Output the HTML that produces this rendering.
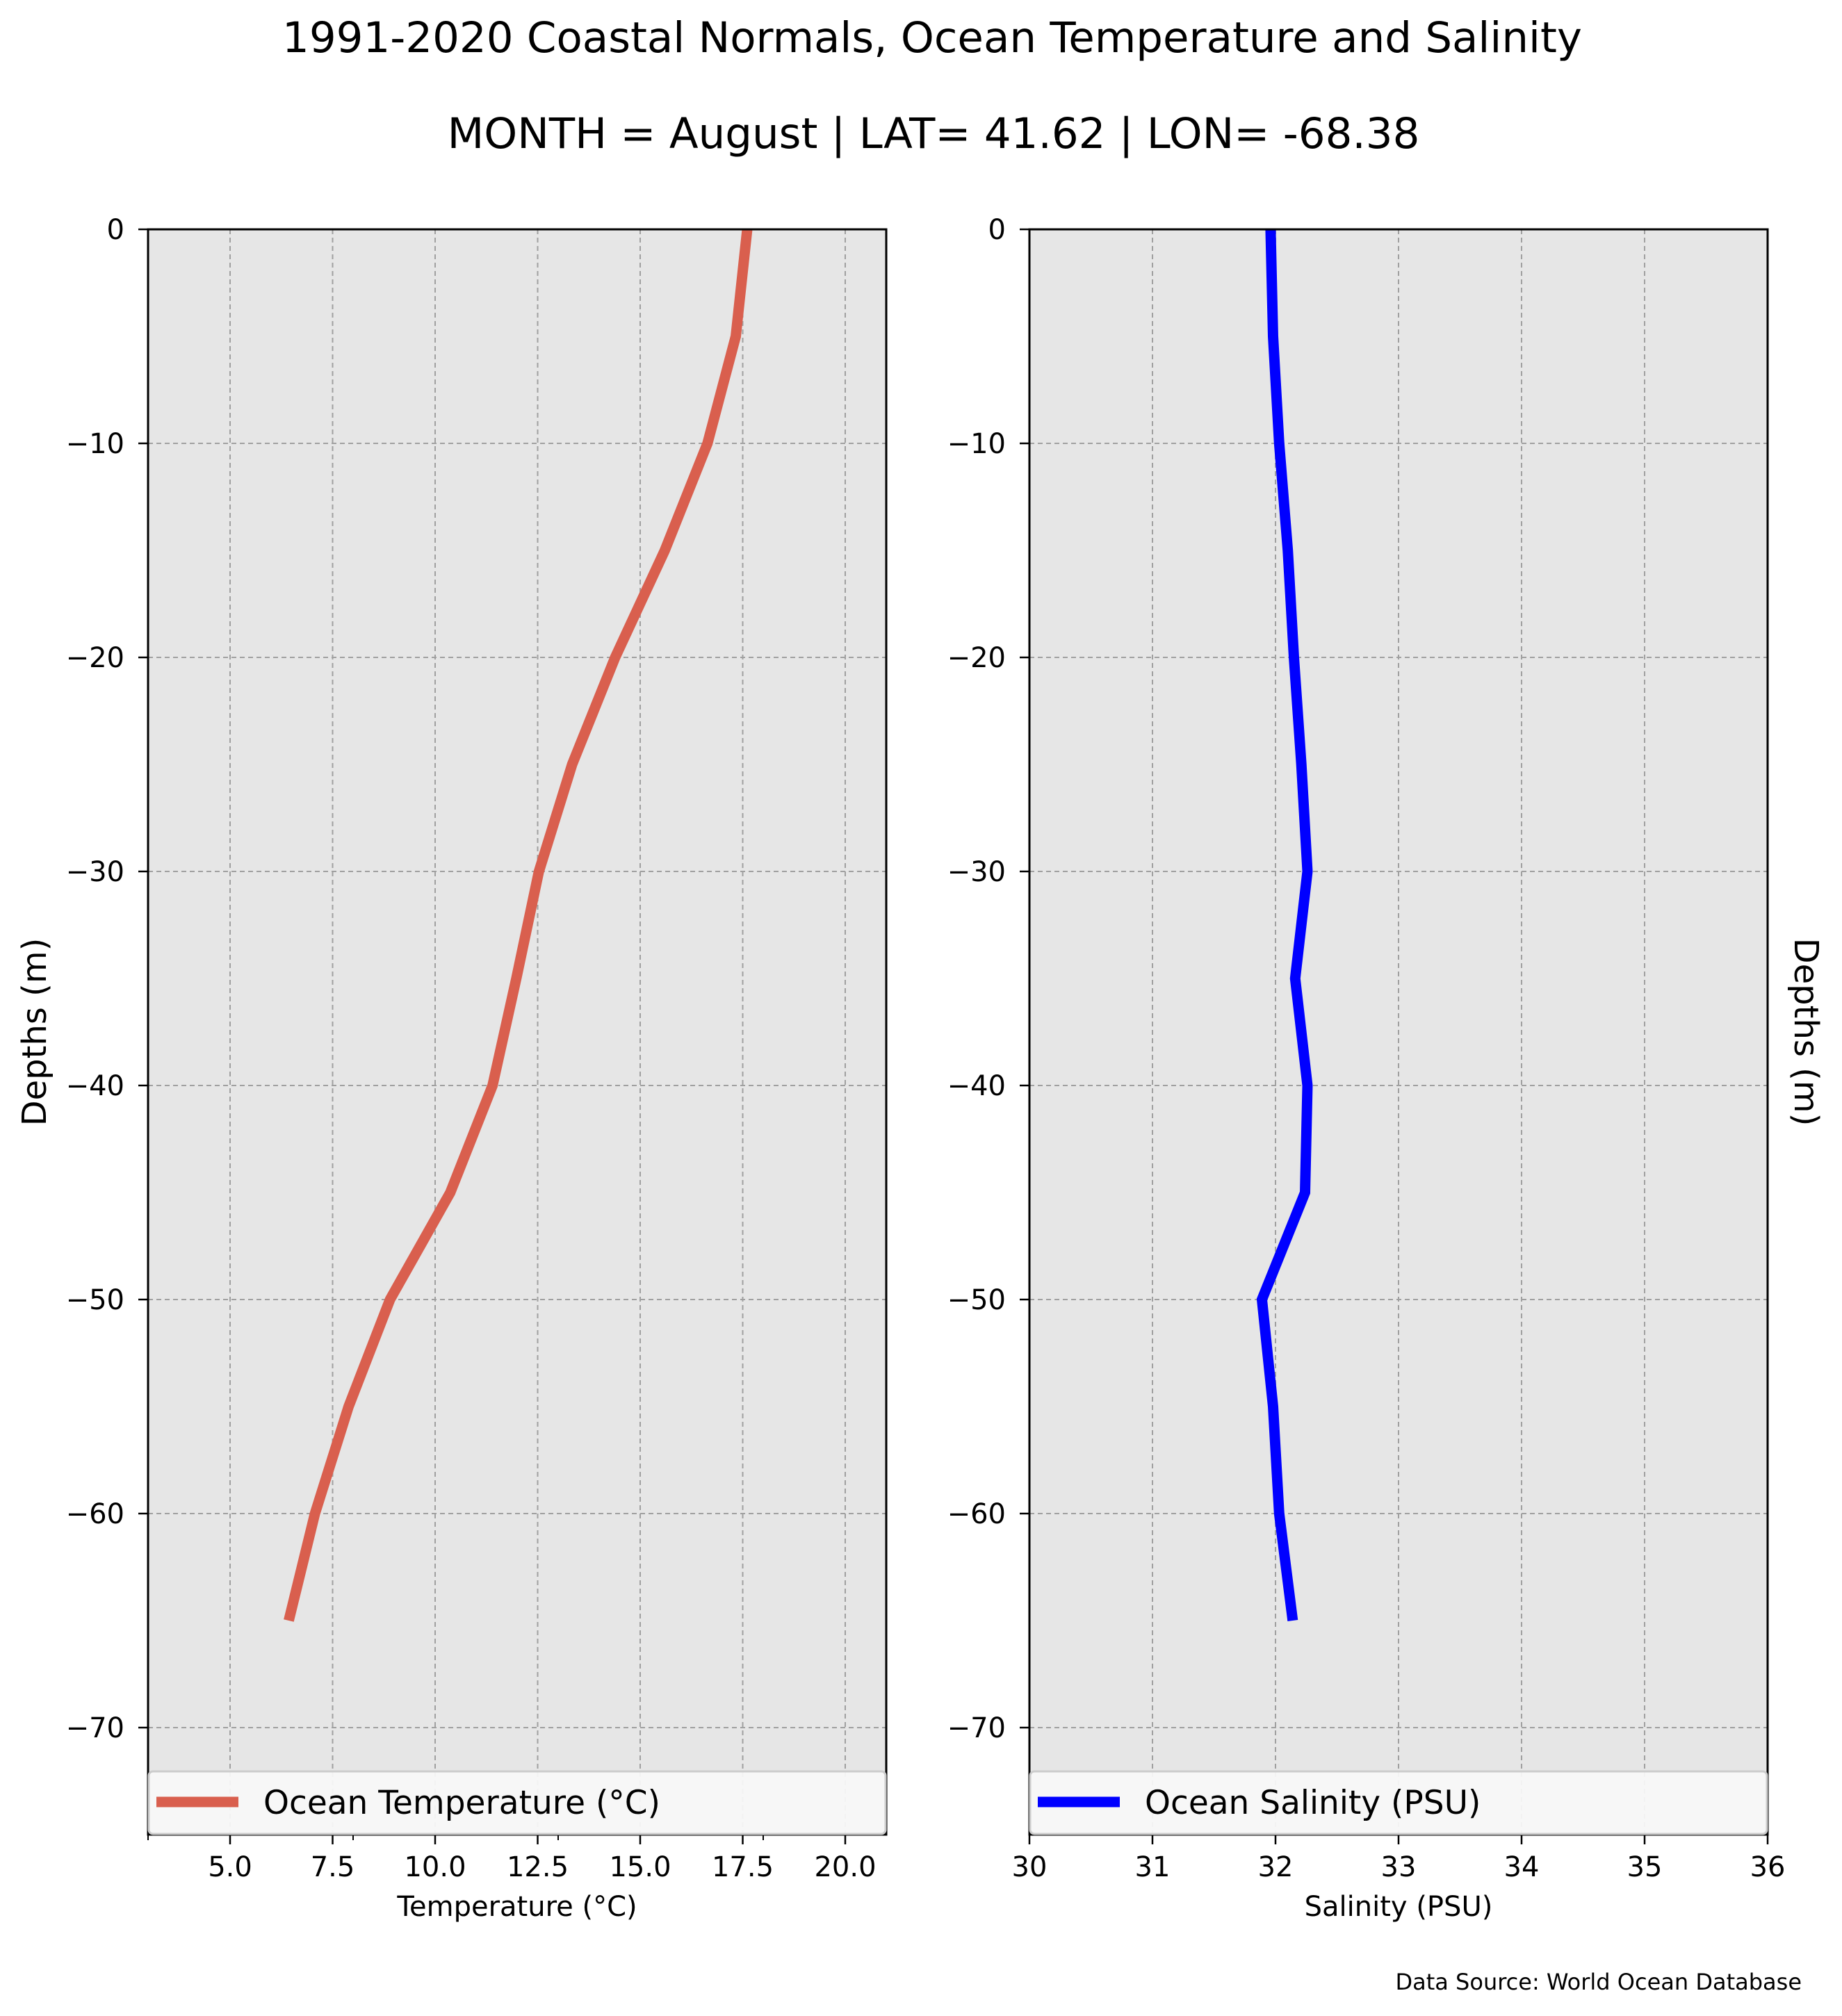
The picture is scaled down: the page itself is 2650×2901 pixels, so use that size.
<!DOCTYPE html>
<html><head><meta charset="utf-8"><style>
html,body{margin:0;padding:0;background:#fff;}
svg{display:block;font-family:"DejaVu Sans","Liberation Sans",sans-serif;}
</style></head><body>
<svg id="fig" xmlns="http://www.w3.org/2000/svg" width="2650" height="2901" viewBox="0 0 2650 2901">
<rect x="0" y="0" width="2650" height="2901" fill="#fff"/>
<text x="1341" y="75" font-size="61" text-anchor="middle">1991-2020 Coastal Normals, Ocean Temperature and Salinity</text>
<text x="1343" y="213" font-size="61" text-anchor="middle">MONTH = August | LAT= 41.62 | LON= -68.38</text>
<g id="left"></g>
<g id="right"></g>
<text transform="translate(66,1485) rotate(-90)" font-size="48" text-anchor="middle">Depths (m)</text>
<text transform="translate(2582,1485) rotate(90)" font-size="48" text-anchor="middle">Depths (m)</text>
<text x="2592" y="2863" font-size="32" text-anchor="end">Data Source: World Ocean Database</text>
</svg>
<script>
const depths = [0,-5,-10,-15,-20,-25,-30,-35,-40,-45,-50,-55,-60,-65];
const temperature = [17.61,17.33,16.64,15.60,14.39,13.34,12.53,11.98,11.40,10.37,8.90,7.89,7.07,6.43];
const salinity = [31.96,31.98,32.03,32.10,32.15,32.21,32.26,32.16,32.26,32.24,31.89,31.98,32.03,32.14];
const yTicks = [0,-10,-20,-30,-40,-50,-60,-70];
const tempTicks = [5.0,7.5,10.0,12.5,15.0,17.5,20.0];
const tempTickLabels = ["5.0","7.5","10.0","12.5","15.0","17.5","20.0"];
const tempMinorTicks = [3,8,13,18];
const salTicks = [30,31,32,33,34,35,36];
const salTickLabels = ["30","31","32","33","34","35","36"];

const NS = "http://www.w3.org/2000/svg";
const TOP = 330, BOT = 2640;
const yScale = d => TOP + (0 - d) / 75 * (BOT - TOP);
function mk(parent, tag, attrs) {
  const e = document.createElementNS(NS, tag);
  for (const k in attrs) e.setAttribute(k, attrs[k]);
  parent.appendChild(e);
  return e;
}
function panel(g, x0, x1, xmin, xmax, xs, xticks, xlabels, minor, values, color, legendText, xTitle, prefix) {
  const xScale = v => x0 + (v - xmin) / (xmax - xmin) * (x1 - x0);
  const bg = mk(g, 'rect', {x: x0, y: TOP, width: x1 - x0, height: BOT - TOP, fill: '#e6e6e6'});
  
  
  xticks.forEach((t, i) => {
    const X = xScale(t);
    const gl = mk(g, 'line', {x1: X, x2: X, y1: TOP, y2: BOT, stroke: '#a0a0a0', 'stroke-width': 2, 'stroke-dasharray': '7,5'});
    
    
    const tk = mk(g, 'line', {x1: X, x2: X, y1: BOT, y2: BOT + 14, stroke: '#000', 'stroke-width': 2.5});
    
    
    const tl = mk(g, 'text', {x: X, y: 2700, 'font-size': 40, 'text-anchor': 'middle'});
    tl.textContent = xlabels[i];
    
    
  });
  minor.forEach(t => {
    const X = xScale(t);
    const mt = mk(g, 'line', {x1: X, x2: X, y1: BOT, y2: BOT + 8, stroke: '#000', 'stroke-width': 2});
    
    
  });
  yTicks.forEach(t => {
    const Y = yScale(t);
    const gl = mk(g, 'line', {x1: x0, x2: x1, y1: Y, y2: Y, stroke: '#a0a0a0', 'stroke-width': 2, 'stroke-dasharray': '7,5'});
    
    
    const tk = mk(g, 'line', {x1: x0 - 14, x2: x0, y1: Y, y2: Y, stroke: '#000', 'stroke-width': 2.5});
    
    
    const tl = mk(g, 'text', {x: x0 - 34, y: Y + 14, 'font-size': 40, 'text-anchor': 'end'});
    tl.textContent = t === 0 ? '0' : '\u2212' + Math.abs(t);
    
    
  });
  const pts = depths.map((d, i) => xScale(values[i]).toFixed(1) + ',' + yScale(d).toFixed(1)).join(' ');
  const line = mk(g, 'polyline', {points: pts, fill: 'none', stroke: color, 'stroke-width': 15, 'stroke-linejoin': 'miter'});
  
  
  const fr = mk(g, 'rect', {x: x0, y: TOP, width: x1 - x0, height: BOT - TOP, fill: 'none', stroke: '#000', 'stroke-width': 3});
  
  
  const lg = mk(g, 'g', {});
  
  
  mk(lg, 'rect', {x: x0 + 1, y: 2549, width: x1 - x0 - 2, height: 90, rx: 6, fill: '#f9f9f9', 'fill-opacity': 0.92, stroke: '#cccccc', 'stroke-width': 3});
  const sw = mk(lg, 'line', {x1: x0 + 12, x2: x0 + 130, y1: 2593, y2: 2593, stroke: color, 'stroke-width': 15});
  
  
  const lt = mk(lg, 'text', {x: x0 + 166, y: 2610, 'font-size': 47});
  lt.textContent = legendText;
  
  
  const xt = mk(g, 'text', {x: (x0 + x1) / 2, y: 2757, 'font-size': 40, 'text-anchor': 'middle'});
  xt.textContent = xTitle;
  
  
}
panel(document.getElementById('left'), 213, 1275, 3, 21, null, tempTicks, tempTickLabels, tempMinorTicks, temperature, '#d95f4e', 'Ocean Temperature (\u00b0C)', 'Temperature (\u00b0C)', 'temperature');
panel(document.getElementById('right'), 1481, 2543, 30, 36, null, salTicks, salTickLabels, [], salinity, '#0000ff', 'Ocean Salinity (PSU)', 'Salinity (PSU)', 'salinity');
</script>
</body></html>
